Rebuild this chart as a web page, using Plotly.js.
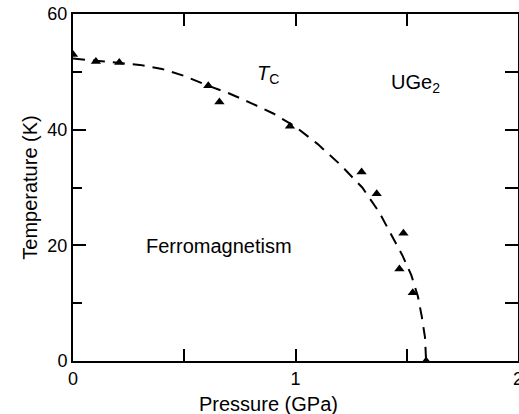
<!DOCTYPE html>
<html>
<head>
<meta charset="utf-8">
<script src="https://cdn.plot.ly/plotly-3.0.1.min.js"></script>
<style>html,body{margin:0;padding:0;background:#fff;}#chart{width:519px;height:414px;}</style>
</head>
<body>
<div id="chart"></div>
<script>
// Measured Curie temperature points (triangles)
const pressurePts = [0, 0.103, 0.208, 0.608, 0.658, 0.975, 1.297, 1.365, 1.485, 1.467, 1.527, 1.587];
const tempPts     = [53.0, 51.8, 51.6, 47.6, 44.8, 40.6, 32.7, 28.9, 22.1, 15.9, 11.8, 0];

// Dashed Tc(P) guide line
const pressureCurve = [0, 0.1, 0.2, 0.3, 0.4, 0.5, 0.6, 0.7, 0.8, 0.9, 1.0, 1.1, 1.2, 1.3, 1.375, 1.43, 1.48, 1.52, 1.55, 1.567, 1.582, 1.587];
const tempCurve     = [52.3, 51.9, 51.6, 51.2, 50.5, 49.3, 47.7, 46.3, 44.6, 42.8, 40.5, 37.5, 34.0, 30.0, 25.8, 22.0, 18.3, 14.9, 11.2, 7.8, 4.1, 0];

const xTickVals = [0, 1, 2];
const xTickText = ['0', '1', '2'];
const yTickVals = [0, 20, 40, 60];
const yTickText = ['0', '20', '40', '60'];

const FONT = 'Liberation Sans, Arial, Helvetica, sans-serif';
const TXT = {family: FONT, size: 20, color: '#000'};
const TICK = {family: FONT, size: 18, color: '#000'};

const traces = [
  {
    x: pressureCurve, y: tempCurve, mode: 'lines', type: 'scatter',
    line: {color: '#000', width: 2, dash: '12px,8px'},
    hoverinfo: 'skip', showlegend: false
  },
  {
    x: pressurePts, y: tempPts, mode: 'markers', type: 'scatter',
    marker: {symbol: 'triangle-up', size: 9, color: '#000'},
    showlegend: false
  },
  {
    // invisible trace so the mirrored (top/right) axes are drawn
    x: [0], y: [0], xaxis: 'x2', yaxis: 'y2', mode: 'markers',
    marker: {opacity: 0}, hoverinfo: 'skip', showlegend: false
  }
];

const baseAxis = {
  showgrid: false, zeroline: false,
  showline: true, linecolor: '#000', linewidth: 2,
  ticks: 'inside', tickwidth: 2, tickcolor: '#000',
  fixedrange: true
};

const layout = {
  width: 519, height: 414,
  margin: {l: 73, r: 1, t: 14, b: 53, pad: 0},
  paper_bgcolor: '#fff', plot_bgcolor: '#fff',
  font: {family: FONT, size: 18, color: '#000'},
  showlegend: false,
  xaxis: Object.assign({}, baseAxis, {
    range: [0, 2], ticklen: 12,
    tickvals: xTickVals, ticktext: xTickText,
    tickfont: TICK, ticklabeloverflow: 'allow',
    minor: {dtick: 0.5, ticks: 'inside', ticklen: 12, tickwidth: 2, tickcolor: '#000', showgrid: false}
  }),
  yaxis: Object.assign({}, baseAxis, {
    range: [0, 60], ticklen: 13,
    tickvals: yTickVals, ticktext: yTickText,
    tickfont: TICK, ticklabeloverflow: 'allow',
    minor: {dtick: 10, ticks: 'inside', ticklen: 9, tickwidth: 2, tickcolor: '#000', showgrid: false},
    title: {text: 'Temperature (K)', font: TXT, standoff: 4}
  }),
  xaxis2: Object.assign({}, baseAxis, {
    overlaying: 'x', side: 'top', matches: 'x', range: [0, 2], ticklen: 12,
    tickvals: [0, 0.5, 1, 1.5, 2], showticklabels: false
  }),
  yaxis2: Object.assign({}, baseAxis, {
    overlaying: 'y', side: 'right', matches: 'y', range: [0, 60], ticklen: 13,
    tickvals: [0, 10, 20, 30, 40, 50, 60], showticklabels: false
  }),
  annotations: [
    {xref: 'paper', yref: 'paper', x: 0.44, y: 0, yshift: -43, xanchor: 'center', yanchor: 'middle',
     text: 'Pressure (GPa)', showarrow: false, font: TXT},
    {xref: 'x', yref: 'y', x: 0.876, y: 49.6, xanchor: 'center', yanchor: 'middle',
     text: '<i>T</i><sub>C</sub>', showarrow: false, font: TXT},
    {xref: 'x', yref: 'y', x: 1.54, y: 47.9, xanchor: 'center', yanchor: 'middle',
     text: 'UGe<sub>2</sub>', showarrow: false, font: TXT},
    {xref: 'x', yref: 'y', x: 0.654, y: 19.8, xanchor: 'center', yanchor: 'middle',
     text: 'Ferromagnetism', showarrow: false, font: TXT}
  ]
};

Plotly.newPlot('chart', traces, layout, {displayModeBar: false, staticPlot: true});
</script>
</body>
</html>
